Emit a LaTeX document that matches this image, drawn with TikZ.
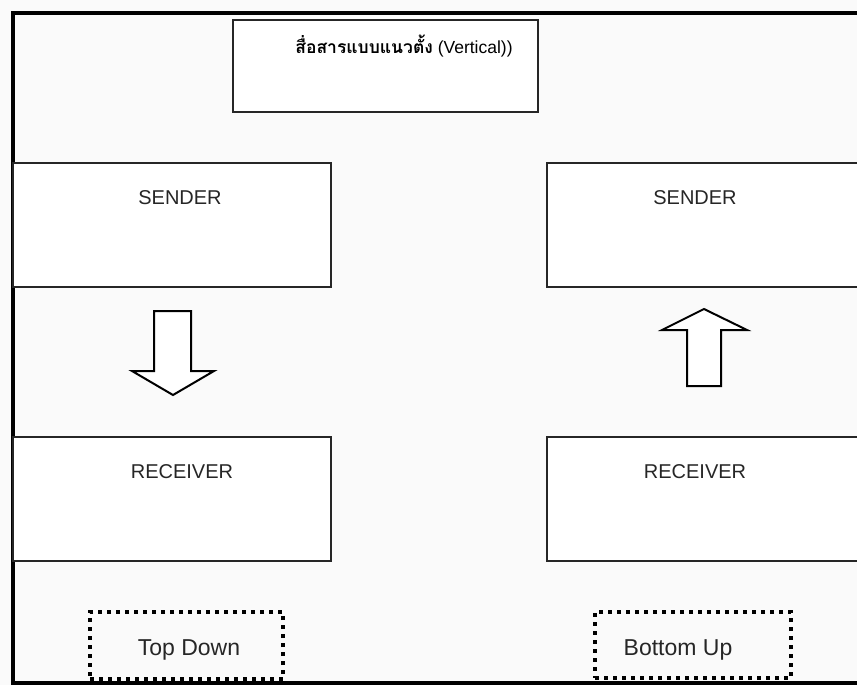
\documentclass[tikz,border=0pt]{standalone}
\usepackage{fontspec}
\setmainfont{Liberation Sans}
\newfontfamily\thaifont[Script=Thai]{Loma}
\usepackage{tikz}

\tikzset{
  box/.style={draw=black!85, line width=1.6pt, fill=white, inner sep=0pt},
  dotbox/.style={draw=black, line width=4pt, dash pattern=on 4pt off 5pt, inner sep=0pt},
  blockarrow/.style={draw=black, line width=2pt, fill=white, line join=miter},
  lbl/.style={text=black!85, font=\fontsize{20}{24}\selectfont},
}

\begin{document}
\begin{tikzpicture}[x=1pt, y=-1pt]
      \useasboundingbox (0,0) rectangle (857,685);
      \clip (0,0) rectangle (857,685);
      \fill[black!2] (0,0) rectangle (857,685);
      %Outer frame
      \draw[line width=4pt] (13,13) rectangle (880,683);
      %Title
      \node[box, line width=2pt, minimum width=305, minimum height=92] (title) at (385.5,66) {};
      \node (titletext) at (404,46) {\fontsize{17.5}{20}\selectfont{\thaifont\bfseries สื่อสารแบบแนวตั้ง} (Vertical))};
      %Boxes
      \node[box, minimum width=318, minimum height=124] (senderL) at (172,225) {};
      \node[box, minimum width=318, minimum height=124] (receiverL) at (172,499) {};
      \node[box, minimum width=330, minimum height=124] (senderR) at (712,225) {};
      \node[box, minimum width=330, minimum height=124] (receiverR) at (712,499) {};
      %Box labels
      \foreach \n/\x/\y/\t in {senderL/180/198/SENDER, receiverL/182/472/RECEIVER,
                               senderR/695/198/SENDER, receiverR/695/472/RECEIVER}
        \node[lbl] (\n text) at (\x,\y) {\t};
      %Top Down arrow
      \draw[blockarrow] (154,311) -- (191,311) -- (191,371) -- (214,371) -- (173,395)
        -- (132,371) -- (154,371) -- cycle;
      %Bottom Up arrow
      \draw[blockarrow] (687,386) -- (721,386) -- (721,330) -- (747,330) -- (704,309)
        -- (662,330) -- (687,330) -- cycle;
      %Dotted labels
      \node[dotbox, minimum width=193, minimum height=67] (topdown) at (186.5,645.5) {};
      \node[lbl, font=\fontsize{23}{26}\selectfont] (topdowntext) at (189,650) {Top Down};
      \node[dotbox, minimum width=196, minimum height=66] (bottomup) at (693,645) {};
      \node[lbl, font=\fontsize{23}{26}\selectfont] (bottomuptext) at (678,650) {Bottom Up};
    \end{tikzpicture}
\end{document}
